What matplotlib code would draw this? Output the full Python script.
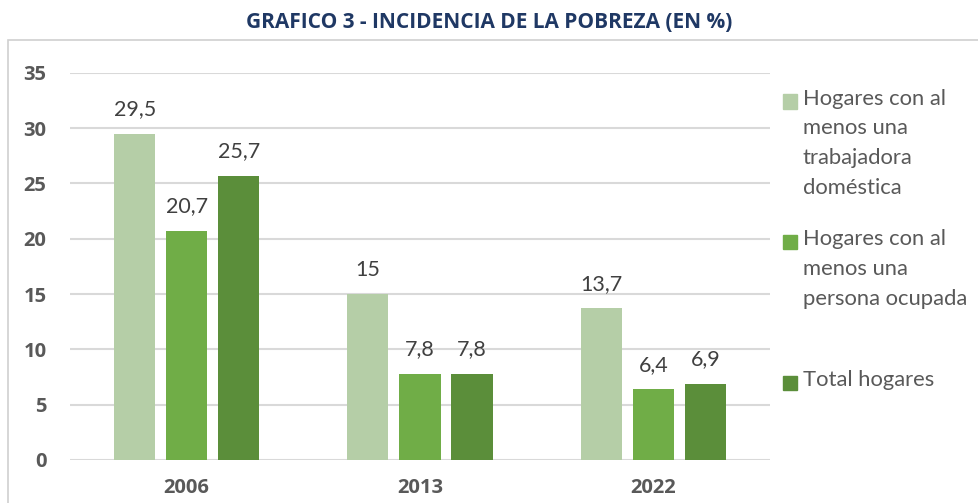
import numpy as np
import matplotlib
matplotlib.use('Agg')
import matplotlib.pyplot as plt
from matplotlib.patches import Rectangle

plt.rcParams['font.family'] = ['Lato', 'DejaVu Sans']
bold_font = ['Open Sans', 'DejaVu Sans']

# data
years = ['2006', '2013', '2022']
series_names = ['Hogares con al\nmenos una\ntrabajadora\ndoméstica',
                'Hogares con al\nmenos una\npersona ocupada',
                'Total hogares']
trabajadora = [29.5, 15.0, 13.7]
ocupada = [20.7, 7.8, 6.4]
total = [25.7, 7.8, 6.9]
yticks = [0, 5, 10, 15, 20, 25, 30, 35]
colors = ['#B5CEA7', '#70AD47', '#5B8E3A']

fig = plt.figure(figsize=(9.79, 5.03), dpi=100)
ax = fig.add_axes([0.0715, 0.0855, 0.715, 0.77])

# chart border
fig.patches.append(Rectangle((0.008, -0.01), 1.0, 0.93, transform=fig.transFigure,
                             fill=False, edgecolor='#D0D0D0', linewidth=1.2))

x = np.arange(len(years))
width = 0.176
step = 0.223
for i, (vals, col) in enumerate(zip([trabajadora, ocupada, total], colors)):
    pos = x + (i - 1) * step
    ax.bar(pos, vals, width=width, color=col, zorder=3)
    for p, v in zip(pos, vals):
        lbl = ('%g' % v).replace('.', ',')
        ax.text(p, v + 1.3, lbl, ha='center', va='bottom', fontsize=15.5, color='#404040')

ax.set_xlim(-0.5, 2.5)
ax.set_ylim(0, 35)
ax.set_yticks(yticks)
ax.set_yticklabels([str(t) for t in yticks], family=bold_font, fontweight='bold',
                   fontsize=14.5, color='#595959')
ax.yaxis.grid(True, color='#D9D9D9', linewidth=1.5, zorder=0)
ax.set_xticks(x)
ax.set_xticklabels(years, family=bold_font, fontweight='bold', fontsize=14.5, color='#595959')
for s in ax.spines.values():
    s.set_visible(False)
ax.tick_params(length=0)
ax.tick_params(axis='y', pad=17)
ax.tick_params(axis='x', pad=13)

fig.text(0.5, 0.956, 'GRAFICO 3 - INCIDENCIA DE LA POBREZA (EN %)', ha='center', va='center',
         family=bold_font, fontsize=15, fontweight='bold', color='#1F3864')

# legend drawn by hand so the square sits on the first line
leg_y = [0.797, 0.517, 0.237]
for name, col, yy in zip(series_names, colors, leg_y):
    fig.patches.append(Rectangle((0.800, yy - 0.013), 0.0145, 0.029, transform=fig.transFigure,
                                 color=col))
    fig.text(0.820, yy + 0.027, name, ha='left', va='top', fontsize=15.8,
             color='#595959', linespacing=1.62)

fig.savefig('out.png', dpi=100)
